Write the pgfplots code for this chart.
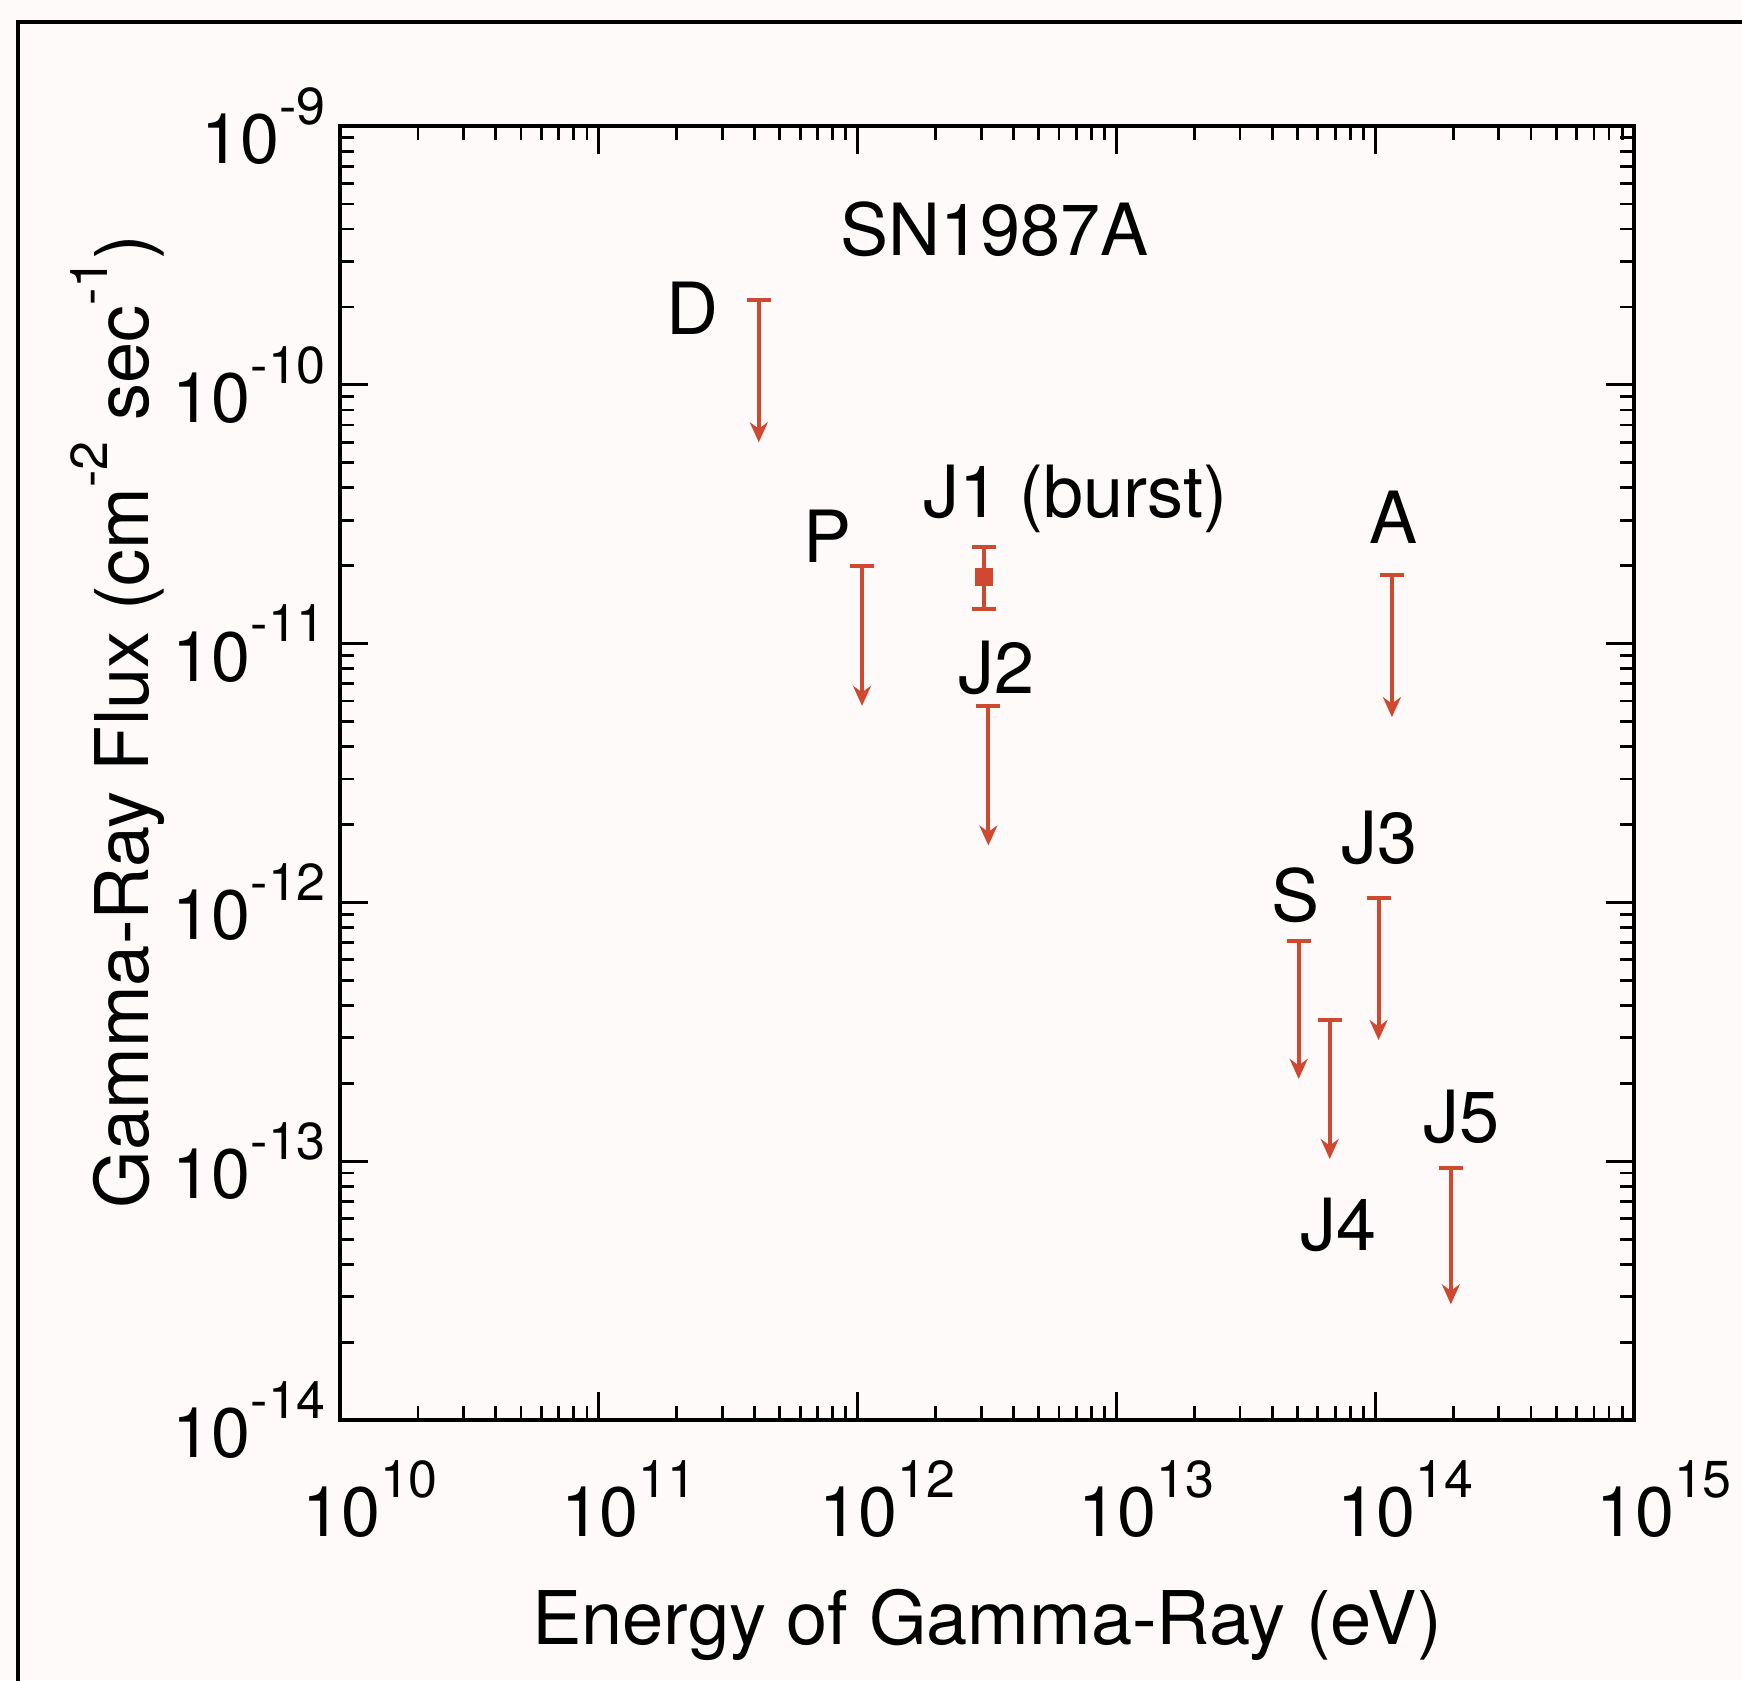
\documentclass[border=0pt]{standalone}
\usepackage{fontspec}
\setmainfont{TeX Gyre Heros}
\usepackage{pgfplots}
\pgfplotsset{compat=1.18}
\usetikzlibrary{arrows.meta}
\definecolor{arr}{RGB}{208,72,48}
\definecolor{bg}{RGB}{254,250,250}
\newcommand{\sups}[1]{\raisebox{0.56em}{\fontsize{13}{13}\selectfont #1}}
\newcommand{\tl}[1]{10\sups{#1}}
\tikzset{lbl/.style={font=\fontsize{18}{21}\selectfont}}
\begin{document}
\begin{tikzpicture}
\useasboundingbox (-85pt,-65pt) rectangle (350.5pt,355pt);
\fill[bg] (-85pt,-65pt) rectangle (350.5pt,355pt);
\draw[line width=1.1pt] (-80.5pt,-66pt) -- (-80.5pt,349.5pt) -- (351pt,349.5pt);
\begin{loglogaxis}[
  scale only axis, width=323.5pt, height=323.5pt,
  xmin=1e10, xmax=1e15, ymin=1e-14, ymax=1e-9,
  xtick={1e10,1e11,1e12,1e13,1e14,1e15},
  xticklabels={\tl{10},\tl{11},\tl{12},\tl{13},\tl{14},\tl{15}},
  ytick={1e-14,1e-13,1e-12,1e-11,1e-10,1e-9},
  yticklabels={\tl{-14},\tl{-13},\tl{-12},\tl{-11},\tl{-10},\tl{-9}},
  tick align=inside, major tick length=7pt, minor tick length=3.5pt,
  axis line style={line width=0.9pt},
  every tick/.style={black, line width=0.7pt},
  tick label style={font=\fontsize{17.5}{20}\selectfont},
  xticklabel style={xshift=7.5pt, yshift=-6.5pt},
  label style={font=\fontsize{18.5}{22}\selectfont},
  xlabel={Energy of Gamma-Ray (eV)},
  ylabel={Gamma-Ray Flux (cm\sups{-2} sec\sups{-1})},
  xlabel style={at={(axis description cs:0.5,-0.158)}, anchor=center},
  ylabel style={at={(axis description cs:-0.172,0.54)}, anchor=center},
  clip=false,
  ul/.style={arr, line width=1pt, -{Stealth[length=5pt,width=4.5pt]}, mark=-, mark indices={1}, mark size=3pt, mark options={solid, -, line width=1pt}},
]
% upper limits: (E, top) -> (E, tip)
\addplot[ul] coordinates {(4.15e11,2.12e-10) (4.15e11,6.0e-11)};   % D
\addplot[ul] coordinates {(1.04e12,2.0e-11) (1.04e12,5.75e-12)};   % P
\addplot[ul] coordinates {(3.2e12,5.75e-12) (3.2e12,1.66e-12)};    % J2
\addplot[ul] coordinates {(1.16e14,1.85e-11) (1.16e14,5.2e-12)};   % A
\addplot[ul] coordinates {(1.03e14,1.04e-12) (1.03e14,2.94e-13)};  % J3
\addplot[ul] coordinates {(5.06e13,7.08e-13) (5.06e13,2.08e-13)};  % S
\addplot[ul] coordinates {(6.67e13,3.5e-13) (6.67e13,1.02e-13)};   % J4
\addplot[ul] coordinates {(1.96e14,9.4e-14) (1.96e14,2.8e-14)};    % J5
% J1 burst: measured point
\addplot[arr, only marks, mark=square*, mark size=2pt,
  error bars/.cd, y dir=both, y explicit,
  error bar style={arr, line width=1pt}, error mark options={arr, line width=1pt, mark size=3pt, rotate=90}]
  coordinates {(3.08e12,1.81e-11) += (0,0.55e-11) -= (0,0.45e-11)};
\node[lbl] at (axis cs:3.37e12,3.99e-10) {SN1987A};
\node[lbl] at (axis cs:2.30e11,1.98e-10) {D};
\node[lbl] at (axis cs:7.66e11,2.61e-11) {P};
\node[lbl] at (axis cs:6.93e12,3.61e-11) {J1 (burst)};
\node[lbl] at (axis cs:3.44e12,8.05e-12) {J2};
\node[lbl] at (axis cs:1.18e14,3.08e-11) {A};
\node[lbl] at (axis cs:1.04e14,1.77e-12) {J3};
\node[lbl] at (axis cs:4.91e13,1.07e-12) {S};
\node[lbl] at (axis cs:7.21e13,5.69e-14) {J4};
\node[lbl] at (axis cs:2.16e14,1.49e-13) {J5};
\end{loglogaxis}
\end{tikzpicture}
\end{document}
